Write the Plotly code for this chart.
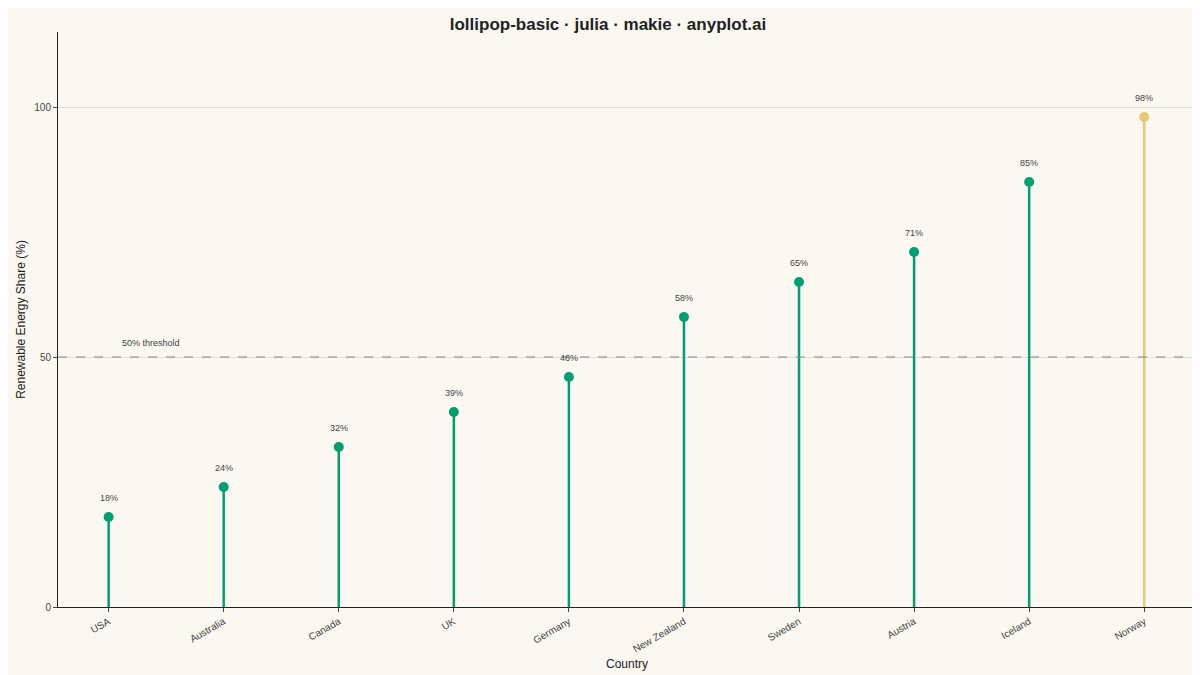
import plotly.graph_objects as go

countries = ["USA", "Australia", "Canada", "UK", "Germany", "New Zealand",
             "Sweden", "Austria", "Iceland", "Norway"]
shares = [18, 24, 32, 39, 46, 58, 65, 71, 85, 98]

green = "#009E73"
gold = "#E3CA73"
colors = [gold if c == "Norway" else green for c in countries]

fig = go.Figure()

# stems
for i, (c, v) in enumerate(zip(countries, shares)):
    fig.add_trace(go.Scatter(x=[i, i], y=[0, v], mode="lines",
                             line=dict(color=colors[i], width=2.5),
                             hoverinfo="skip", showlegend=False))

fig.add_trace(go.Scatter(
    x=list(range(len(countries))), y=shares, mode="markers",
    marker=dict(color=colors, size=10), showlegend=False))

# value labels above the dots
for i, v in enumerate(shares):
    fig.add_annotation(x=i, y=v, yshift=19, text=f"{v}%", showarrow=False,
                       font=dict(size=9, color="#444444"))

fig.add_hline(y=50, line=dict(color="#888888", width=1, dash="dash"))
fig.add_annotation(x=0.1, y=50, yshift=14, text="50% threshold", showarrow=False,
                   xanchor="left", font=dict(size=9, color="#444444"))

fig.update_layout(
    width=1200, height=675,
    paper_bgcolor="#FAF8F1", plot_bgcolor="#FAF8F1",
    font=dict(family="Liberation Sans, Arial", color="#222222"),
    title=dict(text="<b>lollipop-basic · julia · makie · anyplot.ai</b>",
               x=0.5, y=0.985, font=dict(size=17, color="#222222")),
    margin=dict(l=42, r=12, t=24, b=76),
)
fig.update_xaxes(
    tickmode="array", tickvals=list(range(len(countries))), ticktext=countries,
    tickangle=-30, range=[-0.44, 9.45], showgrid=False, zeroline=False,
    showline=True, linecolor="#222222", ticks="outside", ticklen=4,
    tickfont=dict(size=10, color="#444444"),
    title=dict(text="Country", font=dict(size=12), standoff=6))
fig.update_yaxes(
    range=[0, 115], tickvals=[0, 50, 100], showgrid=True, gridcolor="#DDDDDD",
    zeroline=False, showline=True, linecolor="#222222", ticks="outside", ticklen=4,
    tickfont=dict(size=10, color="#444444"),
    title=dict(text="Renewable Energy Share (%)", font=dict(size=12), standoff=6))

fig.write_html("out.html")
